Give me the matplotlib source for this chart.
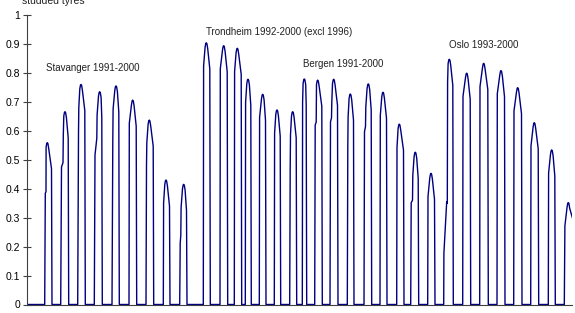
import matplotlib.pyplot as plt

plt.rcParams['font.family'] = ['Liberation Sans', 'DejaVu Sans']

# winter seasons (x in chart units, y = share of studded tyres)
season_start = [44.7, 60.7, 77.7, 94.3, 112.0, 129.0, 146.0, 163.3, 179.7,
                203.3, 220.0, 234.3, 245.3, 259.3, 274.3, 289.7,
                302.3, 314.7, 330.0, 347.3, 364.0, 380.0, 396.7, 410.7, 427.7,
                443.7, 462.7, 479.7, 497.0, 513.7, 530.7, 548.3, 564.3]
season_end = [52.0, 68.7, 85.3, 102.3, 119.3, 136.7, 153.7, 170.0, 187.0,
              210.3, 227.7, 241.7, 251.3, 266.0, 280.7, 296.7,
              306.7, 322.3, 338.0, 354.0, 371.7, 387.0, 404.0, 418.7, 435.0,
              453.3, 470.7, 488.3, 505.0, 522.0, 538.7, 555.3, 576.0]
peak_x = [47.3, 65.0, 81.0, 99.7, 116.0, 132.7, 149.3, 166.0, 183.7,
          206.3, 223.7, 237.3, 248.0, 262.7, 277.0, 292.7,
          304.3, 317.7, 333.7, 350.3, 368.3, 383.0, 399.3, 415.3, 431.0,
          449.3, 466.7, 483.7, 501.0, 517.7, 534.3, 551.7, 568.3]
peak_y = [0.559, 0.666, 0.760, 0.735, 0.755, 0.706, 0.637, 0.430, 0.415,
          0.904, 0.894, 0.885, 0.778, 0.726, 0.672, 0.666,
          0.779, 0.775, 0.778, 0.727, 0.762, 0.733, 0.623, 0.526, 0.453,
          0.847, 0.799, 0.833, 0.808, 0.749, 0.628, 0.534, 0.352]
step_x = [[45.3, 46.0], [61.5, 63.0], [78.5], [95.0, 96.8], [112.8], [], [146.5], [], [180.2, 180.8],
          [], [], [], [], [], [], [290.2],
          [], [315.2, 316.2], [330.5, 331.5], [347.8], [364.5, 365.5], [], [], [411.2, 412.5], [],
          [443.9, 446.7, 447.3], [], [], [], [], [], [], [564.6]]
step_y = [[0.384, 0.39], [0.475, 0.49], [0.59], [0.516, 0.574], [0.568], [], [0.48], [], [0.211, 0.24],
          [], [], [], [], [], [], [0.47],
          [], [0.62, 0.63], [0.631, 0.645], [0.545], [0.597, 0.615], [], [], [0.352, 0.36], [],
          [0.177, 0.355, 0.35], [], [], [], [], [], [], [0.154]]

labels = ['Stavanger 1991-2000', 'Trondheim 1992-2000 (excl 1996)', 'Bergen 1991-2000', 'Oslo 1993-2000']
label_x = [45.7, 206.0, 302.7, 449.0]
label_y = [0.816, 0.941, 0.831, 0.895]

# build the polyline: vertical rise, rounded top, near-vertical drop
xs, ys = [27.0], [0.0]
for i in range(len(season_start)):
    p, px = peak_y[i], peak_x[i]
    pts = [(season_start[i], 0.0)] + list(zip(step_x[i], step_y[i]))
    lx = pts[-1][0] + 0.3
    if lx < px - 1.2:
        pts.append((lx, p - 0.08))
    pts += [(px - 1.2, p - 0.015), (px - 0.5, p - 0.002), (px, p), (px + 0.6, p - 0.003),
            (px + 1.4, p - 0.02), (season_end[i] - 0.5, p - 0.09), (season_end[i], 0.0)]
    for x, y in pts:
        if x > xs[-1]:
            xs.append(x)
            ys.append(y)

fig = plt.figure(figsize=(5.75, 3.13), dpi=100)
ax = fig.add_axes([27 / 575, 1 - 304.5 / 313, 545 / 575, 289.5 / 313])

ax.plot(xs, ys, color='#000080', linewidth=1.0)

ax.set_xlim(27, 572)
ax.set_ylim(0, 1)
ax.set_yticks([i / 10 for i in range(11)])
ax.set_yticklabels(['0'] + ['0.%d' % i for i in range(1, 10)] + ['1'])
ax.set_xticks([])
ax.tick_params(axis='y', direction='inout', length=6, width=0.8, color='#404040',
               labelsize=7.5, pad=2)
for s in ['top', 'right']:
    ax.spines[s].set_visible(False)
for s in ['left', 'bottom']:
    ax.spines[s].set_color('#404040')
    ax.spines[s].set_linewidth(0.8)
    ax.spines[s].set_zorder(3)

for t, x, y in zip(labels, label_x, label_y):
    ax.text(x, y, t, fontsize=7, color='#222222', va='center', ha='left')

fig.text(22 / 575, 1 - 4 / 313, 'studded tyres', fontsize=7.5, color='#222222', va='baseline')

fig.savefig('out.png', dpi=100)
